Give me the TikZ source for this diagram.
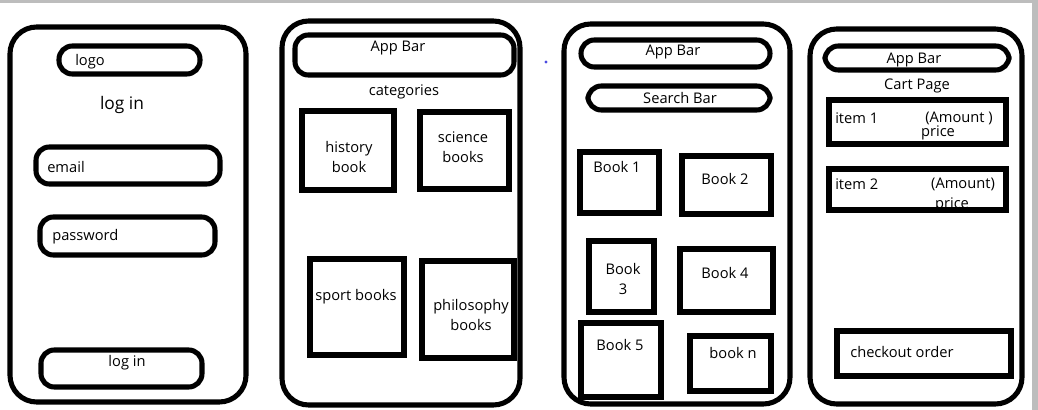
\documentclass[tikz,border=0pt]{standalone}
\usepackage{fontspec}
\setmainfont{Open Sans}
\usetikzlibrary{positioning}
\definecolor{edgegray}{HTML}{BDBDBD}
\definecolor{dotblue}{HTML}{4A4AE0}

\begin{document}
\begin{tikzpicture}[x=0.75pt,y=-0.75pt,
phone/.style={line width=3.8pt,rounded corners=20pt},
bar/.style={line width=3.8pt,rounded corners=10pt},
tile/.style={line width=4.8pt},
lbl/.style={font=\fontsize{11}{15}\selectfont,inner sep=0pt,align=center}]
\useasboundingbox (0,0) rectangle (1038,410);
\fill[edgegray] (0,0) rectangle (1038,3) (1032,0) rectangle (1038,410);
% login screen
\draw[phone] (10,27) rectangle (246,402);
\draw[bar] (59,46) rectangle (200,74);
\node[lbl,anchor=west] (logo) at (75,62) {logo};
\node[lbl,font=\fontsize{13}{15}\selectfont] (title) at (122,105) {log in};
\draw[bar] (36,147) rectangle (220,184);
\node[lbl,anchor=west] (email) at (47,167) {email};
\draw[bar] (40,217) rectangle (215,255);
\node[lbl,anchor=west] (pass) at (52,237) {password};
\draw[bar] (41,350) rectangle (202,387);
\node[lbl] (login) at (127,363) {log in};
% categories screen
\draw[phone] (282,21) rectangle (520,405);
\draw[bar] (295,35) rectangle (514,75);
\node[lbl] (bartwo) at (398,48) {App Bar};
\node[lbl] (cats) at (404,92) {categories};
\draw[tile] (302,111) rectangle (394,190);
\node[lbl] (hist) at (349,157) {history\\book};
\draw[tile] (420,112) rectangle (509,189);
\node[lbl] (sci) at (463,147) {science\\books};
\draw[tile] (310,259) rectangle (404,355);
\node[lbl] (sport) at (356,297) {sport books};
\draw[tile] (422,261) rectangle (514,358);
\node[lbl] (phil) at (471,315) {philosophy\\books};
\fill[dotblue] (546,62) circle [radius=1.2pt];
% books screen
\draw[phone] (564,24) rectangle (790,404);
\draw[bar] (581,40) rectangle (770,67);
\node[lbl] (barthree) at (673,52) {App Bar};
\draw[bar] (588,86) rectangle (770,110);
\node[lbl] (search) at (680,98) {Search Bar};
\draw[tile] (580,152) rectangle (659,213);
\node[lbl] (bka) at (617,167) {Book 1};
\draw[tile] (682,156) rectangle (771,214);
\node[lbl] (bkb) at (725,179) {Book 2};
\draw[tile] (589,241) rectangle (654,312);
\node[lbl] (bkc) at (623,279) {Book\\3};
\draw[tile] (680,249) rectangle (773,312);
\node[lbl] (bkd) at (725,273) {Book 4};
\draw[tile] (581,323) rectangle (661,397);
\node[lbl] (bke) at (620,345) {Book 5};
\draw[tile] (690,336) rectangle (771,391);
\node[lbl] (bkn) at (733,353) {book n};
% cart screen
\draw[phone] (810,29) rectangle (1022,404);
\node[lbl] (barfour) at (914,60) {App Bar};
\draw[bar] (825,46) rectangle (1009,70);
\node[lbl] (cart) at (917,86) {Cart Page};
\draw[tile] (829,100) rectangle (1006,144);
\node[lbl,anchor=west] (itema) at (835,118) {item 1};
\node[lbl] (amta) at (959,118) {(Amount )};
\node[lbl] (pricea) at (938,133) {price};
\node[lbl,anchor=west] (itemb) at (835,184) {item 2};
\node[lbl] (amtb) at (963,184) {(Amount)};
\node[lbl] (priceb) at (952,205) {price};
\draw[tile] (829,169) rectangle (1006,210);
\draw[tile] (837,331) rectangle (1011,376);
\node[lbl,anchor=west] (checkout) at (850,352) {checkout order};
\end{tikzpicture}
\end{document}
